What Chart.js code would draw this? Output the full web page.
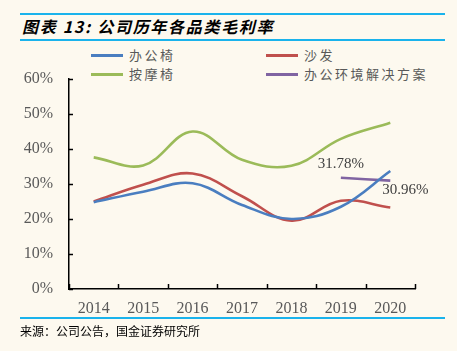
<!DOCTYPE html>
<html>
<head>
<meta charset="utf-8">
<script src="https://cdn.jsdelivr.net/npm/chart.js@4/dist/chart.umd.min.js"></script>
<style>
  body { margin: 0; background: #FDF9EF; }
  #wrap { position: relative; width: 457px; height: 351px; overflow: hidden; background: #FDF9EF; }
  .rule { position: absolute; left: 20px; width: 425px; height: 2px; background: #1AB3EC; }
  #title { position: absolute; left: 22px; top: 14px; font: italic bold 16px "Noto Sans CJK SC", sans-serif; letter-spacing: 1.7px; color: #000; line-height: 24px; }
  #source { position: absolute; left: 20px; top: 322px; font: 12px "Noto Sans CJK SC", sans-serif; color: #000; line-height: 18px; }
  .leg { position: absolute; font: 13px "Noto Sans CJK SC", sans-serif; letter-spacing: 2.5px; color: #595959; line-height: 18px; }
  .leg span { display: inline-block; width: 32px; height: 3px; vertical-align: middle; margin-right: 6px; position: relative; top: -1px; }
  canvas { position: absolute; left: 0; top: 0; }
</style>
</head>
<body>
<div id="wrap">
  <div class="rule" style="top:13px"></div>
  <div id="title">图表 13: 公司历年各品类毛利率</div>
  <div class="rule" style="top:39px"></div>
  <div id="legend"></div>
  <canvas id="myChart" width="457" height="351"></canvas>
  <div class="rule" style="top:317px"></div>
  <div id="source">来源：公司公告，国金证券研究所</div>
</div>
<script>
// 年份
const years = ["2014", "2015", "2016", "2017", "2018", "2019", "2020"]
// 各品类毛利率(%)
const chair = [24.8, 27.8, 30.2, 24.0, 20.0, 23.5, 33.7]
const sofa = [25.0, 29.8, 33.0, 26.5, 19.5, 25.2, 23.3]
const massage = [37.6, 35.3, 45.0, 36.9, 35.2, 42.9, 47.5]
const officeEnv = [null, null, null, null, null, 31.78, 30.96]
const seriesNames = ["办公椅", "沙发", "按摩椅", "办公环境解决方案"]
const seriesColors = ["#4A7EC0", "#C0504D", "#9BBB59", "#8064A2"]
const yTicks = [0, 10, 20, 30, 40, 50, 60]

// 凡例 (2列)
const legendPos = [[91, 46], [266, 46], [91, 65], [266, 65]]
let legendHtml = ""
for (let i = 0; i < seriesNames.length; i++) {
    legendHtml += `<div class="leg" style="left:${legendPos[i][0]}px;top:${legendPos[i][1]}px"><span style="background:${seriesColors[i]}"></span>${seriesNames[i]}</div>`
}
document.getElementById('legend').innerHTML = legendHtml

// 内向きの目盛りとラベル
const extras = {
    id: 'extras',
    afterDraw(chart) {
        const ctx = chart.ctx
        const xs = chart.scales.x
        const ys = chart.scales.y
        const area = chart.chartArea
        ctx.save()
        ctx.strokeStyle = '#000'
        ctx.lineWidth = 1.5
        yTicks.forEach(v => {
            const py = Math.round(ys.getPixelForValue(v)) + 0.5
            ctx.beginPath()
            ctx.moveTo(area.left, py)
            ctx.lineTo(area.left + 4, py)
            ctx.stroke()
        })
        for (let i = 0; i <= years.length; i++) {
            let px
            if (i === 0) px = area.left
            else if (i === years.length) px = area.right
            else px = (xs.getPixelForValue(i - 1) + xs.getPixelForValue(i)) / 2
            px = Math.round(px) + 0.5
            ctx.beginPath()
            ctx.moveTo(px, area.bottom)
            ctx.lineTo(px, area.bottom - 5)
            ctx.stroke()
        }
        // データラベル
        const meta = chart.getDatasetMeta(3)
        ctx.font = '15px "Liberation Serif", serif'
        ctx.fillStyle = '#404040'
        ctx.textAlign = 'center'
        ctx.textBaseline = 'middle'
        const p1 = meta.data[5]
        const p2 = meta.data[6]
        ctx.fillText(officeEnv[5].toFixed(2) + '%', p1.x, p1.y - 14)
        ctx.fillText(officeEnv[6].toFixed(2) + '%', p2.x + 15, p2.y + 9)
        ctx.restore()
    }
}

const allData = [chair, sofa, massage, officeEnv]
const ctx = document.getElementById('myChart').getContext('2d')
window.myChart = new Chart(ctx, {
    type: 'line',
    data: {
        labels: years,
        datasets: allData.map((d, i) => ({
            label: seriesNames[i],
            data: d,
            borderColor: seriesColors[i],
            borderWidth: 2.6,
            pointRadius: 0,
            tension: 0.38,
            fill: false
        }))
    },
    options: {
        responsive: false,
        animation: false,
        layout: { padding: { top: 79, right: 42, left: 0, bottom: 0 } },
        plugins: { legend: { display: false }, tooltip: { enabled: false } },
        scales: {
            x: {
                offset: true,
                grid: { display: false, drawTicks: false },
                border: { color: '#000', width: 1.5 },
                ticks: { color: '#595959', font: { family: 'Liberation Serif', size: 16 }, padding: 10, maxRotation: 0 },
                afterFit: s => { s.height = 62 }
            },
            y: {
                min: 0,
                max: 60,
                grid: { display: false, drawTicks: false },
                border: { color: '#000', width: 1.5 },
                ticks: { stepSize: 10, color: '#595959', font: { family: 'Liberation Serif', size: 16 }, padding: 16, callback: v => v + '%' },
                afterFit: s => { s.width = 69 }
            }
        }
    },
    plugins: [extras]
})
</script>
</body>
</html>
